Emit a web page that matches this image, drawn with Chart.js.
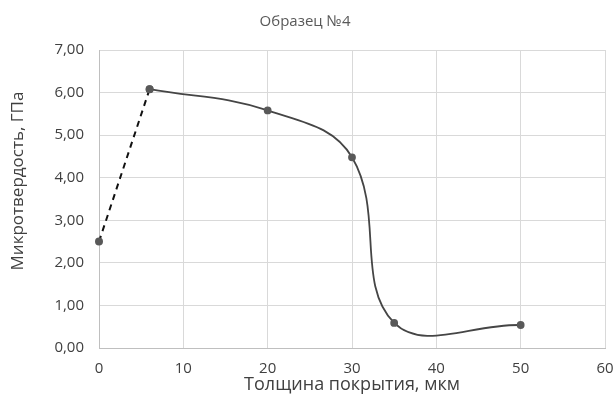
<!DOCTYPE html>
<html><head><meta charset="utf-8">
<script src="https://cdn.jsdelivr.net/npm/chart.js@4"></script>
<style>html,body{margin:0;padding:0;background:#fff}#wrap{width:616px;height:397px}</style>
</head><body><div id="wrap"><canvas id="c"></canvas></div>
<script>
const chartTitle = "Образец №4";
const xAxisTitle = "Толщина покрытия, мкм";
const yAxisTitle = "Микротвердость, ГПа";
const dashedX = [0, 6];
const dashedY = [2.50, 6.08];
const curveX = [6, 20, 30, 35, 50];
const curveY = [6.08, 5.58, 4.48, 0.59, 0.54];

const toPts = (xs, ys) => xs.map((x, i) => ({x: x, y: ys[i]}));
const FONT = "'Open Sans', 'Noto Sans', sans-serif";

const textPlugin = {
  id: 'customTexts',
  afterDraw(chart) {
    const ctx = chart.ctx;
    ctx.save();
    ctx.textAlign = "center";
    ctx.textBaseline = "middle";
    ctx.font = "15px " + FONT;
    ctx.fillStyle = "#595959";
    ctx.fillText(chartTitle, 305, 22);
    ctx.font = "18px " + FONT;
    ctx.fillStyle = "#404040";
    ctx.fillText(xAxisTitle, 352, 385);
    ctx.translate(18, 181);
    ctx.rotate(-Math.PI / 2);
    ctx.font = "17px " + FONT;
    ctx.fillText(yAxisTitle, 0, 0);
    ctx.restore();
  }
};

new Chart(document.getElementById('c'), {
  type: 'scatter',
  data: {
    datasets: [
      {
        data: toPts(curveX, curveY),
        showLine: true,
        borderColor: '#454545',
        borderWidth: 1.8,
        tension: 0.4,
        pointRadius: 3,
        pointBackgroundColor: '#595959',
        pointBorderColor: '#595959',
        clip: false
      },
      {
        data: toPts(dashedX, dashedY),
        showLine: true,
        borderColor: '#111111',
        borderWidth: 2,
        borderDash: [6, 5],
        tension: 0,
        pointRadius: 3,
        pointBackgroundColor: '#595959',
        pointBorderColor: '#595959',
        clip: false
      }
    ]
  },
  options: {
    responsive: true,
    maintainAspectRatio: false,
    animation: false,
    layout: {padding: {top: 50, right: 11, left: 0, bottom: 0}},
    elements: {line: {capBezierPoints: false}},
    plugins: {legend: {display: false}, tooltip: {enabled: false}, title: {display: false}},
    scales: {
      x: {
        type: 'linear', min: 0, max: 60,
        ticks: {stepSize: 10, color: '#404040', font: {family: FONT, size: 15}, padding: 12},
        grid: {color: '#d9d9d9', lineWidth: 1, drawTicks: false},
        border: {color: '#bfbfbf'},
        afterFit(s) { s.height = 49; s.paddingRight = 0; s.paddingLeft = 0; }
      },
      y: {
        type: 'linear', min: 0, max: 7,
        ticks: {stepSize: 1, color: '#404040', font: {family: FONT, size: 15}, padding: 15,
          callback: v => v.toFixed(2).replace('.', ',')},
        grid: {color: '#d9d9d9', lineWidth: 1, drawTicks: false},
        border: {color: '#bfbfbf'},
        afterFit(s) { s.width = 99; }
      }
    }
  },
  plugins: [textPlugin]
});
</script>
</body></html>
